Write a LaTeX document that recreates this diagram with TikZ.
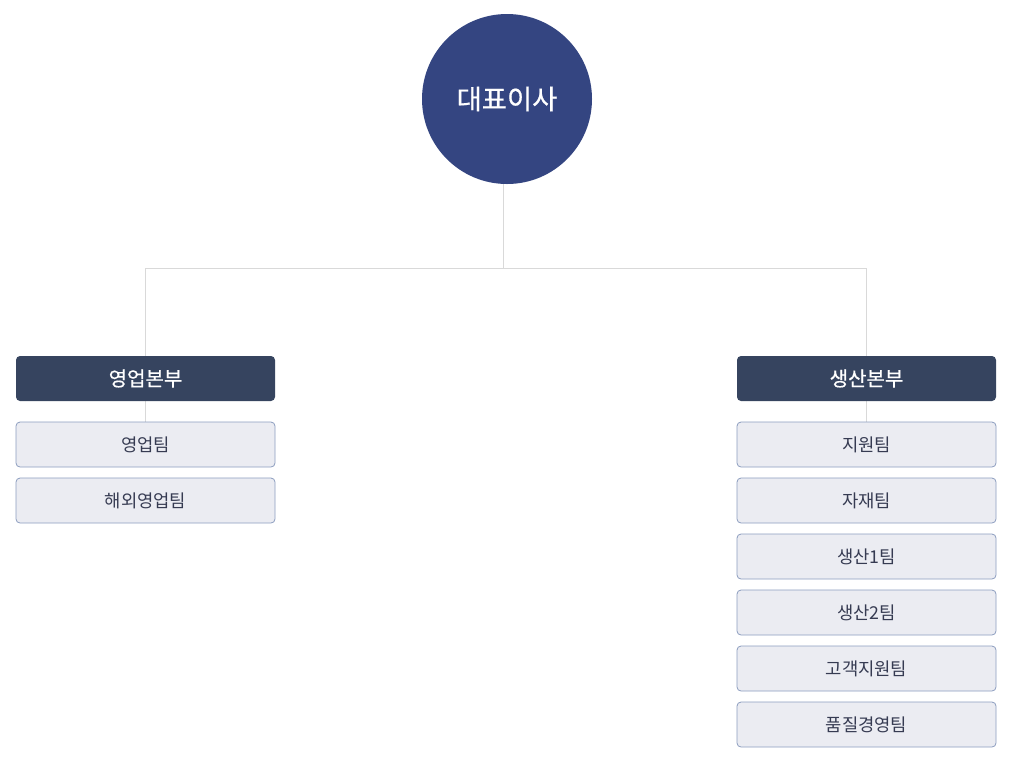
\documentclass[tikz,border=0pt]{standalone}
\usepackage{fontspec}
\setmainfont{Noto Sans CJK KR}
\newfontfamily\boldish[FakeBold=0.6]{Noto Sans CJK KR}
\usepackage{tikz}
\usetikzlibrary{positioning, backgrounds}

\definecolor{ceoblue}{HTML}{344581}
\definecolor{headnavy}{HTML}{36445F}
\definecolor{teamfill}{HTML}{EBECF2}
\definecolor{teamline}{HTML}{8C9DBF}
\definecolor{teamtext}{HTML}{363B52}
\definecolor{linkgray}{HTML}{D9D9D9}

\tikzset{
  ceo/.style={circle, fill=ceoblue, text=white, minimum size=127.5pt, inner sep=0pt, font=\boldish\fontsize{20.5pt}{22pt}\selectfont},
  division/.style={rectangle, rounded corners=3pt, fill=headnavy, text=white, minimum width=194.25pt, minimum height=33.75pt, inner sep=0pt, outer sep=0pt, font=\boldish\fontsize{15pt}{17pt}\selectfont},
  team/.style={rectangle, rounded corners=3pt, draw=teamline, line width=0.6pt, fill=teamfill, text=teamtext, minimum width=194.25pt, minimum height=33.75pt, inner sep=0pt, outer sep=0pt, font=\fontsize{13.3pt}{15pt}\selectfont},
  link/.style={draw=linkgray, line width=0.75pt},
}

\begin{document}
\begin{tikzpicture}[x=0.75pt, y=-0.75pt, node distance=8.25pt]
% Page size in pixels
\useasboundingbox (0,0) rectangle (1010,769);

% Draw head
\node[ceo] (ceo) at (507,99) {대표이사};

% Draw divisions
\node[division] (sales) at (145.5,378.5) {영업본부};
\node[division] (prod) at (866.5,378.5) {생산본부};

% Sales teams
\node[team, below=15.75pt of sales] (salesA) {영업팀};
\node[team, below=of salesA] (salesB) {해외영업팀};

% Production teams
\node[team, below=15.75pt of prod] (prodA) {지원팀};
\node[team, below=of prodA] (prodB) {자재팀};
\node[team, below=of prodB] (prodC) {생산1팀};
\node[team, below=of prodC] (prodD) {생산2팀};
\node[team, below=of prodD] (prodE) {고객지원팀};
\node[team, below=of prodE] (prodF) {품질경영팀};

% Draw links
\coordinate (trunk) at (503,268);
\begin{scope}[on background layer]
\draw[link] (trunk |- ceo.south) -- (trunk);
\draw[link] (salesA.north) -- (salesA.north |- trunk) -- (prodA.north |- trunk) -- (prodA.north);
\end{scope}

\end{tikzpicture}
\end{document}
